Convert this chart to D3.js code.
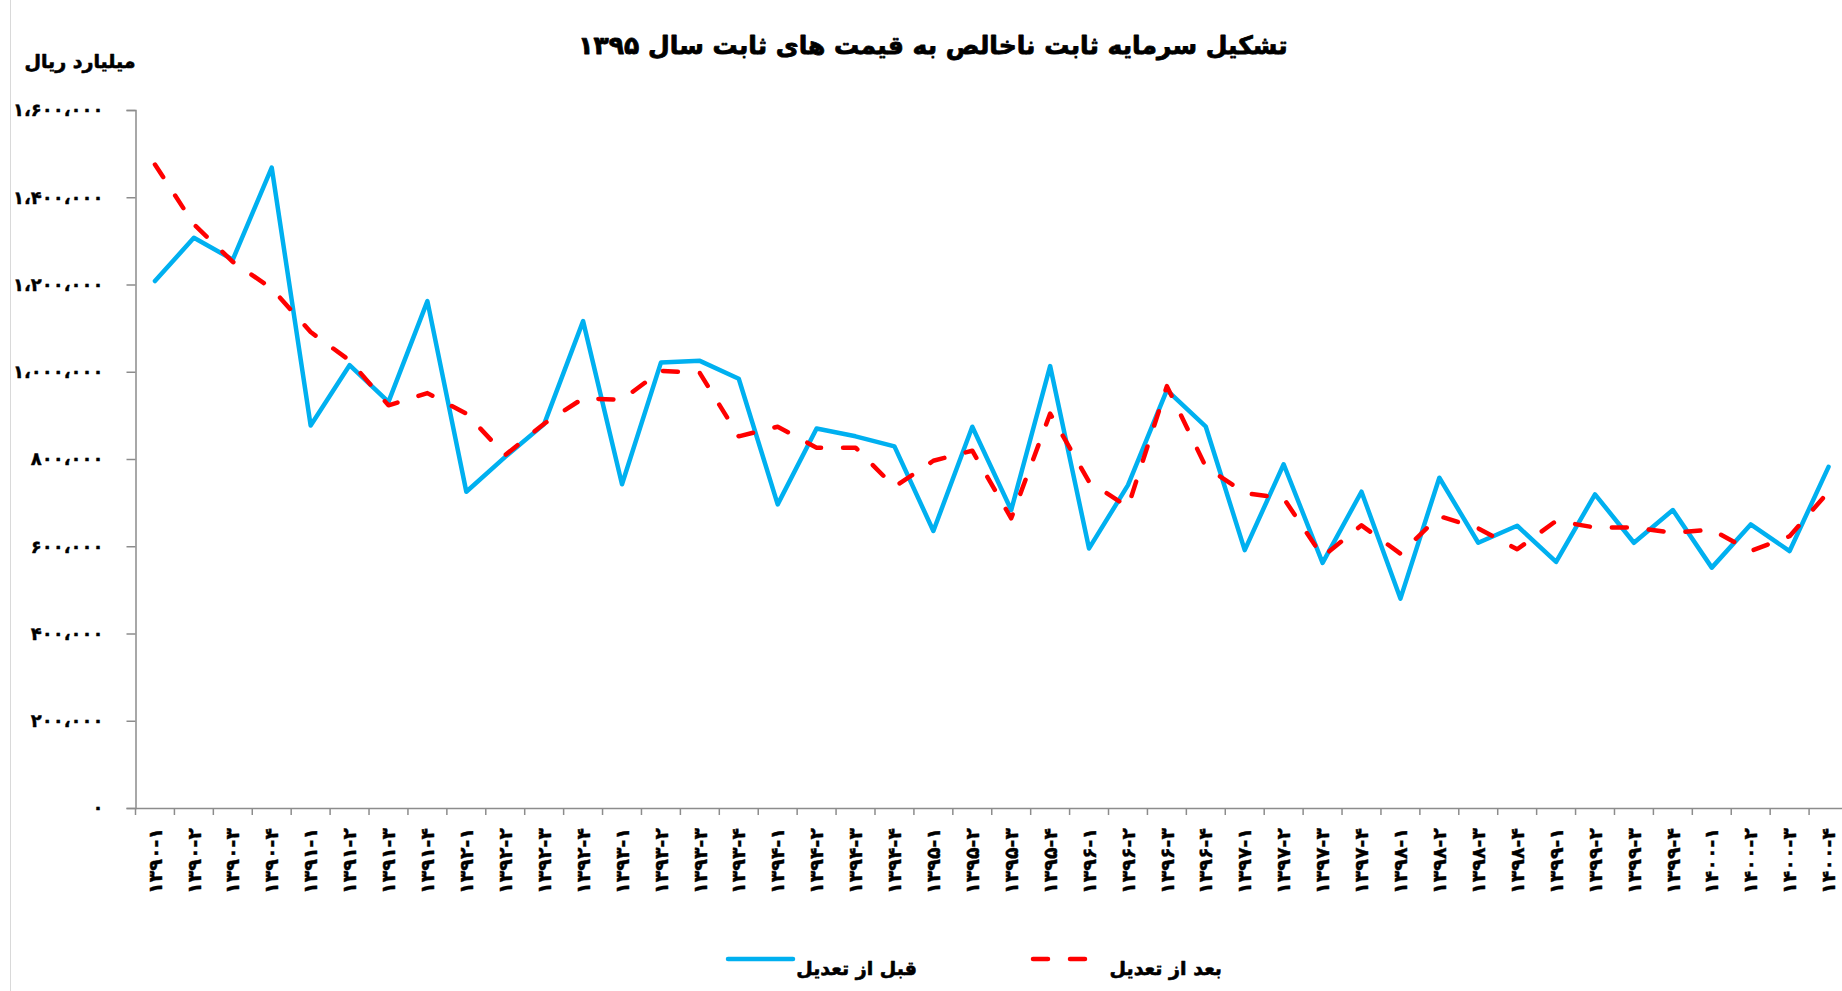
<!DOCTYPE html>
<html>
<head>
<meta charset="utf-8">
<script src="https://cdn.jsdelivr.net/npm/d3@7"></script>
<style>
    body { margin: 0; background: #fff; }
    svg text { font-family: "DejaVu Sans", sans-serif; font-weight: bold; fill: #000; }
</style>
</head>
<body>
<div id="chart"></div>
<script>
var categories = [
    "1390-1", "1390-2", "1390-3", "1390-4",
    "1391-1", "1391-2", "1391-3", "1391-4",
    "1392-1", "1392-2", "1392-3", "1392-4",
    "1393-1", "1393-2", "1393-3", "1393-4",
    "1394-1", "1394-2", "1394-3", "1394-4",
    "1395-1", "1395-2", "1395-3", "1395-4",
    "1396-1", "1396-2", "1396-3", "1396-4",
    "1397-1", "1397-2", "1397-3", "1397-4",
    "1398-1", "1398-2", "1398-3", "1398-4",
    "1399-1", "1399-2", "1399-3", "1399-4",
    "1400-1", "1400-2", "1400-3", "1400-4"
];
// قبل از تعدیل
var beforeAdj = [
    1208000, 1307000, 1257000, 1468000,
    877000, 1015000, 931000, 1162000,
    725000, 805000, 880000, 1116000,
    742000, 1021000, 1025000, 984000,
    696000, 870000, 852000, 829000,
    635000, 874000, 683000, 1013000,
    595000, 740000, 958000, 874000,
    591000, 788000, 562000, 725000,
    480000, 757000, 608000, 647000,
    564000, 719000, 608000, 683000,
    551000, 650000, 589000, 782000
];
// بعد از تعدیل
var afterAdj = [
    1475000, 1338000, 1252000, 1191000,
    1091000, 1026000, 923000, 951000,
    904000, 809000, 881000, 939000,
    936000, 1002000, 997000, 852000,
    874000, 826000, 826000, 736000,
    796000, 819000, 664000, 904000,
    748000, 690000, 967000, 782000,
    722000, 710000, 576000, 648000,
    583000, 669000, 641000, 593000,
    658000, 643000, 643000, 631000,
    638000, 589000, 623000, 725000
];
var yTicks = [0, 200000, 400000, 600000, 800000, 1000000, 1200000, 1400000, 1600000];
var chartTitle = "تشکیل سرمایه ثابت ناخالص به قیمت های ثابت سال ۱۳۹۵";
var unitLabel = "میلیارد ریال";
var seriesNames = ["قبل از تعدیل", "بعد از تعدیل"];

var W = 1842, H = 991;
var faDigits = "۰۱۲۳۴۵۶۷۸۹";
function toFa(s) {
    return String(s).replace(/[0-9]/g, function (c) { return faDigits[+c]; });
}
var fmt = d3.format(",");
function faNumber(v) {
    return toFa(fmt(v)).replace(/,/g, "\u060C");
}

var svg = d3.select("#chart").append("svg")
    .attr("width", W)
    .attr("height", H);

svg.append("rect").attr("width", W).attr("height", H).attr("fill", "#fff");

// faint border of the chart area on the left
svg.append("line")
    .attr("x1", 10.5).attr("x2", 10.5)
    .attr("y1", 0).attr("y2", H)
    .attr("stroke", "#d9d9d9").attr("stroke-width", 1);

var x = d3.scaleBand()
    .domain(categories)
    .range([135.5, 1848]);

var y = d3.scaleLinear()
    .domain([0, 1600000])
    .range([808, 110]);

var axisColor = "#8c8c8c";

// heavier look for the bold persian text
function heavy(sel, w) {
    sel.attr("stroke", "#000")
        .attr("stroke-width", w)
        .attr("stroke-linejoin", "round")
        .attr("paint-order", "stroke");
}

// y axis
var yAxis = svg.append("g")
    .attr("transform", "translate(135.5,0)")
    .call(d3.axisLeft(y).tickValues(yTicks).tickSize(9).tickPadding(23).tickFormat(faNumber));
yAxis.select(".domain").attr("stroke", axisColor).attr("stroke-width", 1.5);
yAxis.selectAll(".tick line").attr("stroke", axisColor).attr("stroke-width", 1.5);
yAxis.selectAll(".tick text")
    .style("font-size", "18px")
    .style("font-family", "'DejaVu Sans', sans-serif")
    .style("font-weight", "bold")
    .attr("fill", "#000")
    .call(heavy, 0.4);

// x axis
var xAxis = svg.append("g")
    .attr("transform", "translate(0,808)")
    .call(d3.axisBottom(x).tickSizeInner(0).tickSizeOuter(0).tickFormat(toFa));
xAxis.select(".domain").attr("stroke", axisColor).attr("stroke-width", 1.5);
xAxis.selectAll(".tick text")
    .attr("transform", "rotate(-90)")
    .attr("x", -20)
    .attr("y", 0)
    .attr("dy", "0.35em")
    .attr("text-anchor", "end")
    .style("font-size", "19px")
    .style("font-family", "'DejaVu Sans', sans-serif")
    .style("font-weight", "bold")
    .attr("fill", "#000")
    .call(heavy, 0.4);

// tick marks between categories
xAxis.selectAll(".bound")
    .data(categories)
    .enter().append("line")
    .attr("class", "bound")
    .attr("x1", function (d) { return x(d); })
    .attr("x2", function (d) { return x(d); })
    .attr("y1", 0)
    .attr("y2", 7)
    .attr("stroke", axisColor)
    .attr("stroke-width", 1.5);

var line = d3.line()
    .x(function (d, i) { return x(categories[i]) + x.bandwidth() / 2; })
    .y(function (d) { return y(d); });

svg.append("path")
    .datum(beforeAdj)
    .attr("fill", "none")
    .attr("stroke", "#00b0f0")
    .attr("stroke-width", 4.5)
    .attr("stroke-linejoin", "round")
    .attr("stroke-linecap", "round")
    .attr("d", line);

svg.append("path")
    .datum(afterAdj)
    .attr("fill", "none")
    .attr("stroke", "#ff0000")
    .attr("stroke-width", 4.5)
    .attr("stroke-dasharray", "15,22")
    .attr("stroke-linecap", "round")
    .attr("stroke-linejoin", "round")
    .attr("d", line);

// title
svg.append("text")
    .attr("x", 933)
    .attr("y", 45)
    .attr("text-anchor", "middle")
    .attr("dominant-baseline", "central")
    .style("font-size", "25px")
    .text(chartTitle)
    .call(heavy, 0.8);

svg.append("text")
    .attr("x", 80)
    .attr("y", 61)
    .attr("text-anchor", "middle")
    .attr("dominant-baseline", "central")
    .style("font-size", "19px")
    .text(unitLabel)
    .call(heavy, 0.6);

// legend
var legend = svg.append("g");
legend.append("line")
    .attr("x1", 728).attr("x2", 793)
    .attr("y1", 959).attr("y2", 959)
    .attr("stroke", "#00b0f0").attr("stroke-width", 4.5).attr("stroke-linecap", "round");
legend.append("text")
    .attr("x", 917).attr("y", 968)
    .attr("text-anchor", "end")
    .attr("dominant-baseline", "central")
    .style("font-size", "19px")
    .text(seriesNames[0])
    .call(heavy, 0.6);
legend.append("line")
    .attr("x1", 1033).attr("x2", 1092)
    .attr("y1", 959).attr("y2", 959)
    .attr("stroke", "#ff0000").attr("stroke-width", 4.5)
    .attr("stroke-dasharray", "15,22").attr("stroke-linecap", "round");
legend.append("text")
    .attr("x", 1222).attr("y", 968)
    .attr("text-anchor", "end")
    .attr("dominant-baseline", "central")
    .style("font-size", "19px")
    .text(seriesNames[1])
    .call(heavy, 0.6);
</script>
</body>
</html>
